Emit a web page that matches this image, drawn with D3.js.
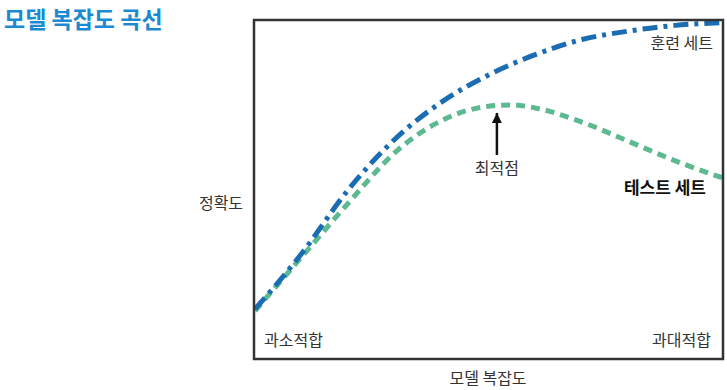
<!DOCTYPE html>
<html>
<head>
<meta charset="utf-8">
<script src="https://cdn.jsdelivr.net/npm/d3@7"></script>
<style>
  body { margin: 0; background: #fff; }
  text { font-family: "Noto Sans CJK KR", "Noto Sans", sans-serif; }
</style>
</head>
<body>
<script>
// model complexity (0-100) vs accuracy (0-100)
const trainX   = [0, 10, 20, 30, 40, 50, 60, 70, 80, 90, 100];
const trainAcc = [14.5, 31, 50, 65, 76, 84, 90, 94.5, 97, 98.7, 99.5];
const testX    = [0, 10, 20, 30, 40, 50, 55, 60, 70, 80, 90, 100];
const testAcc  = [14, 30, 46, 61, 70.5, 74.7, 75.1, 74.2, 70, 64.3, 58.5, 53.5];
const optimum = {x: 51.8, y: 74.5};

const W = 727, H = 390;
const frame = {left: 255, right: 722, top: 21, bottom: 358};

const svg = d3.select("body").append("svg")
    .attr("width", W).attr("height", H);

const x = d3.scaleLinear().domain([0, 100]).range([frame.left, frame.right]);
const y = d3.scaleLinear().domain([0, 100]).range([frame.bottom, frame.top]);

svg.append("text")
    .attr("x", 4).attr("y", 28)
    .attr("font-size", 23).attr("font-weight", "bold")
    .attr("fill", "#1b8ad3")
    .text("모델 복잡도 곡선");

svg.append("clipPath").attr("id", "clip")
  .append("rect")
    .attr("x", frame.left).attr("y", frame.top)
    .attr("width", frame.right - frame.left).attr("height", frame.bottom - frame.top);

const line = d3.line().curve(d3.curveMonotoneX)
    .x(d => x(d[0])).y(d => y(d[1]));

const g = svg.append("g").attr("clip-path", "url(#clip)");

g.append("path")
    .datum(d3.zip(testX, testAcc))
    .attr("d", line)
    .attr("fill", "none")
    .attr("stroke", "#5db98f")
    .attr("stroke-width", 5)
    .attr("stroke-dasharray", "9 6");

g.append("path")
    .datum(d3.zip(trainX, trainAcc))
    .attr("d", line)
    .attr("fill", "none")
    .attr("stroke", "#1b6db3")
    .attr("stroke-width", 5)
    .attr("stroke-dasharray", "15 6 4 6");

// frame
svg.append("rect")
    .attr("x", frame.left - 1).attr("y", frame.top - 1)
    .attr("width", frame.right - frame.left + 2).attr("height", frame.bottom - frame.top + 2)
    .attr("fill", "none").attr("stroke", "#333").attr("stroke-width", 2.5);

// optimum arrow
svg.append("defs").append("marker")
    .attr("id", "arrow").attr("viewBox", "0 0 10 10")
    .attr("refX", 10).attr("refY", 5)
    .attr("markerWidth", 4).attr("markerHeight", 4)
    .attr("orient", "auto")
  .append("path").attr("d", "M0,0L10,5L0,10Z").attr("fill", "#111");

svg.append("line")
    .attr("x1", x(optimum.x)).attr("x2", x(optimum.x))
    .attr("y1", 155).attr("y2", y(optimum.y) + 6)
    .attr("stroke", "#111").attr("stroke-width", 2.5)
    .attr("marker-end", "url(#arrow)");

svg.append("text")
    .attr("x", x(optimum.x)).attr("y", 174)
    .attr("text-anchor", "middle").attr("font-size", 16).attr("fill", "#333")
    .text("최적점");

svg.append("text")
    .attr("x", 713).attr("y", 49)
    .attr("text-anchor", "end").attr("font-size", 16).attr("fill", "#333")
    .text("훈련 세트");

svg.append("text")
    .attr("x", 706).attr("y", 194)
    .attr("text-anchor", "end").attr("font-size", 17).attr("font-weight", "bold").attr("fill", "#111")
    .text("테스트 세트");

svg.append("text")
    .attr("x", 264).attr("y", 346)
    .attr("font-size", 16).attr("fill", "#333")
    .text("과소적합");

svg.append("text")
    .attr("x", 711).attr("y", 346)
    .attr("text-anchor", "end").attr("font-size", 16).attr("fill", "#333")
    .text("과대적합");

svg.append("text")
    .attr("x", 488).attr("y", 384)
    .attr("text-anchor", "middle").attr("font-size", 16).attr("fill", "#333")
    .text("모델 복잡도");

svg.append("text")
    .attr("x", 221).attr("y", 209)
    .attr("text-anchor", "middle").attr("font-size", 16).attr("fill", "#333")
    .text("정확도");
</script>
</body>
</html>
